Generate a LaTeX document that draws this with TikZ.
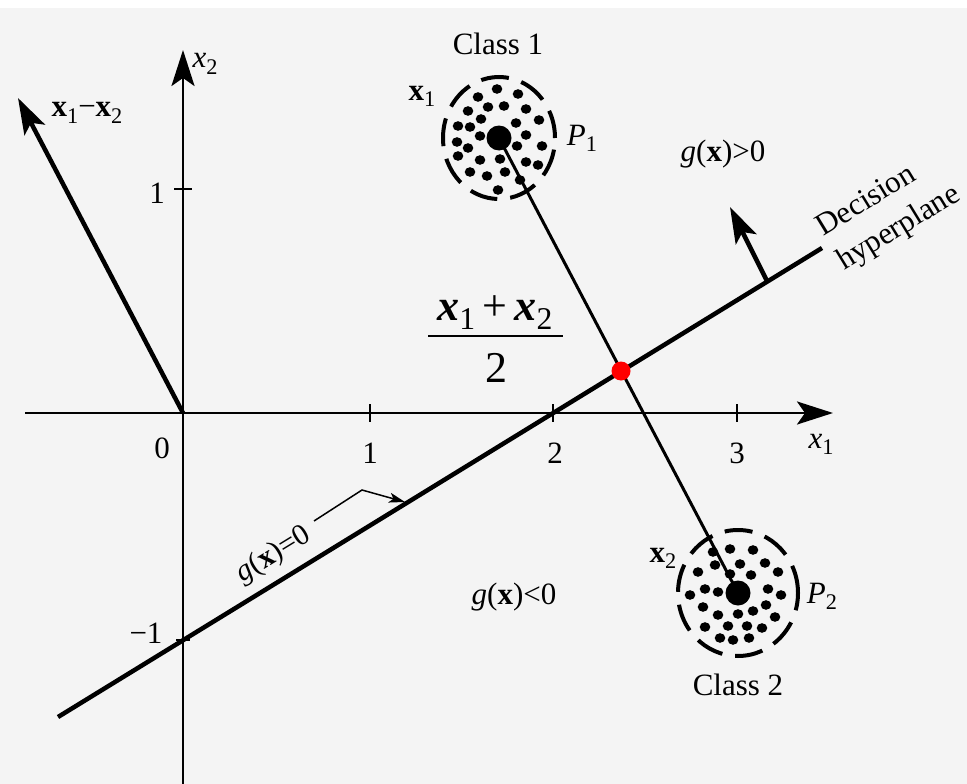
\documentclass[tikz,border=0pt]{standalone}
\usepackage{fontspec}
\setmainfont{Liberation Serif}
\usetikzlibrary{arrows.meta}
\definecolor{paper}{RGB}{244,244,244}
\newcommand{\sbs}[1]{\raisebox{-0.22em}{\scalebox{0.72}{#1}}}
\begin{document}
\begin{tikzpicture}[x=1pt,y=-1pt,
  lbl/.style={inner sep=0pt,anchor=base,font=\fontsize{31}{36}\selectfont},
  fraclbl/.style={inner sep=0pt,anchor=base,font=\fontsize{44}{50}\selectfont},
  bigtip/.style={-{Stealth[length=36pt,width=23pt,inset=8pt]}},
  smalltip/.style={-{Stealth[length=16pt,width=10pt,inset=4pt]}},
  axisline/.style={line width=2.8pt},
  heavy/.style={line width=4.5pt},
  tickmark/.style={line width=2.6pt},
  blob/.style={circle,fill=black,minimum size=25pt,inner sep=0pt},
  ring/.style={line width=4pt,dash pattern=on 28pt off 13pt},
  midpt/.style={circle,fill=red,minimum size=19pt,inner sep=0pt},
]
\useasboundingbox (0,0) rectangle (967,784);
\fill[paper] (0,8) rectangle (967,784);
\fill[white] (0,0) rectangle (967,8);

% axes
\coordinate (O) at (183,413);
\coordinate (x1s) at (25,413);
\coordinate (x1e) at (833,413);
\coordinate (x2s) at (183,784);
\coordinate (x2e) at (183,50);
\draw[axisline,bigtip] (x1s) -- (x1e);
\draw[axisline,bigtip] (x2s) -- (x2e);
\foreach \t in {370,553,737} \draw[tickmark] (\t,404) -- (\t,422);
\draw[tickmark] (174,189) -- (192,189);
\draw[tickmark] (176,640) -- (190,640);

% tick labels
\node[lbl] (t0) at (162,458) {0};
\node[lbl] (t1) at (370,463) {1};
\node[lbl] (t2) at (555,463) {2};
\node[lbl] (t3) at (737,463) {3};
\node[lbl] (ty1) at (157,203) {1};
\node[lbl] (tym1) at (146,643) {−1};
\node[lbl] (lx1) at (821,448) {\textit{x}\sbs{1}};
\node[lbl] (lx2) at (205,68) {\textit{x}\sbs{2}};

% decision hyperplane
\coordinate (dA) at (58,717);
\coordinate (dB) at (822,248);
\draw[heavy] (dA) -- (dB);
\node[inner sep=0pt,align=left,rotate=31.5,font=\fontsize{31}{40}\selectfont] (dh) at (889,212) {Decision\\hyperplane};

% x1 - x2 direction
\coordinate (dd) at (18,98);
\draw[heavy,bigtip] (O) -- (dd);
\node[lbl] (ldiff) at (87,117) {\textbf{x}\sbs{1}−\textbf{x}\sbs{2}};

% normal arrow
\coordinate (nb) at (767,281);
\coordinate (nt) at (730,207);
\draw[heavy,bigtip] (nb) -- (nt);

% g(x)=0 label and leader
\node[inner sep=0pt,rotate=31.5,font=\fontsize{30}{34}\selectfont] (g0) at (274,555) {\textit{g}(\textbf{x})=0};
\coordinate (l1) at (314,521);
\coordinate (l2) at (362,490);
\coordinate (l3) at (405,502);
\draw[line width=1.5pt,smalltip] (l1) -- (l2) -- (l3);

% prototypes
\coordinate (c1) at (499,138);
\coordinate (c2) at (738,593);
\draw[line width=3pt] (c1) -- (c2);
\draw[ring] (c1) ellipse [x radius=56pt, y radius=61pt];
\draw[ring] (c2) ellipse [x radius=60pt, y radius=63pt];
\foreach \dx/\dy in {-2/-49,19/-44,-21/-41,-11/-31,5/-32,27/-29,-31/-27,-18/-19,17/-15,40/-18,-41/-12,-29/-11,27/-3,-19/-2,-42/4,43/8,-31/10,18/8,-41/18,-19/22,1/21,27/24,39/27,-29/34,-12/38,6/34,21/42,-1/52}
  \fill ([shift={(\dx,\dy)}]c1) ellipse [x radius=5.3pt, y radius=4.8pt];
\foreach \dx/\dy in {-8/-44,15/-43,-25/-41,2/-29,27/-30,-23/-28,-40/-21,40/-21,13/-18,-8/-19,-48/2,-33/-4,-20/-1,30/-4,43/2,-35/14,-20/22,0/21,15/18,28/12,37/24,-33/34,-10/33,9/33,24/35,-18/45,-5/47,11/45}
  \fill ([shift={(\dx,\dy)}]c2) ellipse [x radius=5.3pt, y radius=4.8pt];
\node[blob] (P1) at (c1) {};
\node[blob] (P2) at (c2) {};

\node[lbl] (cl1) at (498,55) {Class 1};
\node[lbl] (cl2) at (738,695) {Class 2};
\node[lbl] (lbx1) at (422,100) {\textbf{x}\sbs{1}};
\node[lbl] (lbx2) at (663,562) {\textbf{x}\sbs{2}};
\node[lbl] (lp1) at (582,145) {\textit{P}\sbs{1}};
\node[lbl] (lp2) at (822,603) {\textit{P}\sbs{2}};
\node[lbl] (gpos) at (723,161) {\textit{g}(\textbf{x})>0};
\node[lbl] (gneg) at (514,604) {\textit{g}(\textbf{x})<0};

% midpoint fraction
\node[fraclbl] (num) at (495,320) {\textbf{\textit{x}}\sbs{1}\,+\,\textbf{\textit{x}}\sbs{2}};
\coordinate (barL) at (428,336);
\coordinate (barR) at (563,336);
\draw[line width=2pt] (barL) -- (barR);
\node[fraclbl] (den) at (496,382) {2};

\node[midpt] (mid) at (621,371) {};
\end{tikzpicture}
\end{document}
